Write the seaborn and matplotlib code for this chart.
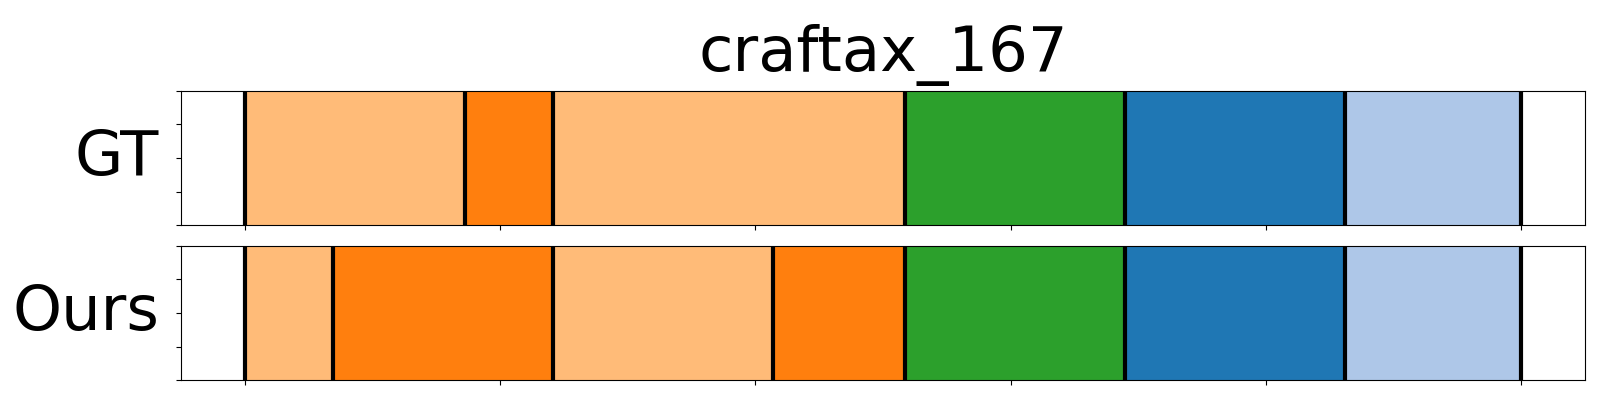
import numpy as np
import matplotlib
matplotlib.use("Agg")
import matplotlib.pyplot as plt
import seaborn as sns

title = "craftax_167"
rows = ["GT", "Ours"]

# segment boundaries (frame index) and tab20 class id of each segment
gt_bounds = [0, 5, 7, 15, 20, 25, 29]
gt_classes = [3, 2, 3, 4, 0, 1]
ours_bounds = [0, 2, 7, 12, 15, 20, 25, 29]
ours_classes = [3, 2, 3, 2, 4, 0, 1]

sns.set_style("ticks", {"axes.edgecolor": "black", "xtick.color": "black",
                        "ytick.color": "black", "text.color": "black",
                        "axes.labelcolor": "black"})
plt.rcParams["font.family"] = ["DejaVu Sans"]
palette = sns.color_palette("tab20")

fig, axes = plt.subplots(2, 1, figsize=(16, 4), dpi=100, sharex=True)
fig.subplots_adjust(left=0.113, right=0.9906, top=0.773, bottom=0.049, hspace=0.15)

for ax, name, bounds, classes in zip(
    axes, rows, [gt_bounds, ours_bounds], [gt_classes, ours_classes]
):
    starts = np.array(bounds[:-1])
    widths = np.diff(bounds)
    ax.barh(
        0.5,
        widths,
        left=starts,
        height=1.0,
        color=[palette[c] for c in classes],
        edgecolor=[palette[c] for c in classes],
        linewidth=0.5,
    )
    for b in bounds:
        ax.axvline(b, color="black", linewidth=3)
    span = bounds[-1] - bounds[0]
    ax.set_xlim(bounds[0] - 0.05 * span, bounds[-1] + 0.05 * span)
    ax.set_ylim(0, 1)
    ax.set_yticks(np.linspace(0, 1, 5))
    ax.set_xticks(np.linspace(bounds[0], bounds[-1], 6))
    ax.tick_params(labelbottom=False, labelleft=False)
    ax.set_ylabel(name, fontsize=45, rotation=0, ha="right", va="center", labelpad=12)
    for s in ax.spines.values():
        s.set_visible(True)
        s.set_color("black")

axes[0].set_title(title, fontsize=45, pad=14)

fig.savefig("out.png", dpi=100)
